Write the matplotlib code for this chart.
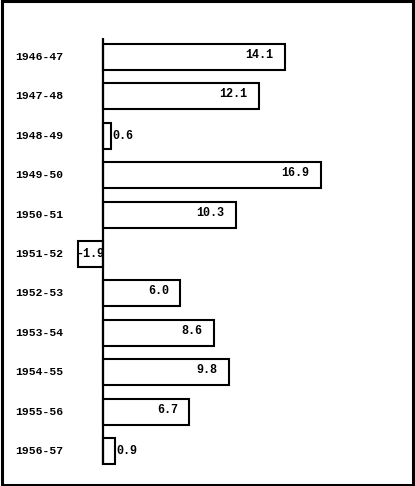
import matplotlib
matplotlib.use("Agg")
import matplotlib.pyplot as plt
from matplotlib.patches import Rectangle
import matplotlib.transforms as mtransforms

years = ["1946-47", "1947-48", "1948-49", "1949-50", "1950-51", "1951-52",
         "1952-53", "1953-54", "1954-55", "1955-56", "1956-57"]
values = [14.1, 12.1, 0.6, 16.9, 10.3, -1.9, 6.0, 8.6, 9.8, 6.7, 0.9]
value_labels = ["14.1", "12.1", "0.6", "16.9", "10.3", "-1.9", "6.0", "8.6", "9.8", "6.7", "0.9"]

W, H = 415, 486
fig = plt.figure(figsize=(W / 100, H / 100), dpi=100)
ax = fig.add_axes([0, 0, 1, 1])

scale = 12.9     # px per unit
zero_px = 103
ax.set_xlim(-zero_px / scale, (W - zero_px) / scale)
row0, step = 57, 39.4
ax.set_ylim((H - row0) / step, -row0 / step)
ax.axis("off")

ypos = list(range(len(years)))
ax.barh(ypos, values, height=0.66, color="white", edgecolor="black",
        linewidth=1.5, zorder=2)
ax.plot([0, 0], [-0.48, 10.36], color="black", lw=1.6, zorder=3,
        solid_capstyle="butt")

font = dict(family=["Liberation Mono", "DejaVu Sans Mono"], fontweight="bold")
blend = mtransforms.blended_transform_factory(ax.transAxes, ax.transData)
for y, lab in zip(ypos, years):
    ax.text(15 / W, y, lab, transform=blend, ha="left", va="center",
            fontsize=8.2, **font)

for y, v, t in zip(ypos, values, value_labels):
    if v < 0:
        ax.text(v / 2 - 0.05, y, t, ha="center", va="center", fontsize=8.5, **font)
    elif v < 2:
        ax.text(v + 0.15, y, t, ha="left", va="center", fontsize=8.5, **font)
    else:
        ax.text(v - 0.9, y - 0.05, t, ha="right", va="center", fontsize=8.5, **font)

fig.add_artist(Rectangle((0.004, 0.003), 0.992, 0.994, transform=fig.transFigure,
                         fill=False, edgecolor="black", linewidth=2.2))

fig.savefig("out.png", dpi=100)
